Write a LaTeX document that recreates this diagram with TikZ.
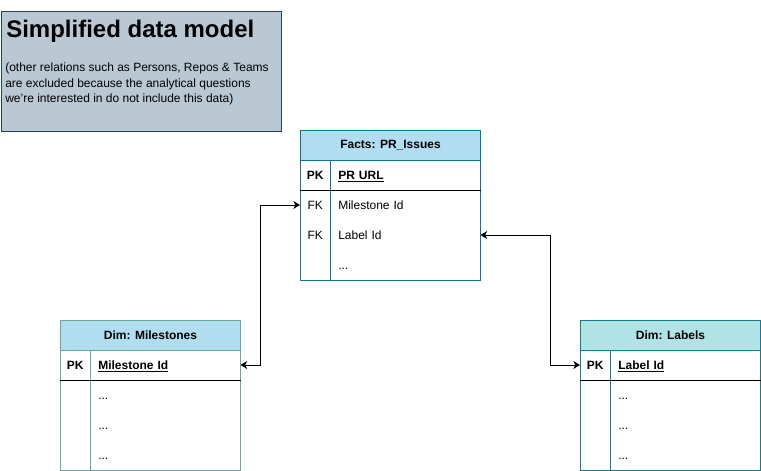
\documentclass[tikz,border=0pt]{standalone}
\usepackage{fontspec}
\setmainfont{Liberation Sans}
\usepackage{xcolor}
\usetikzlibrary{arrows.meta,calc}
\definecolor{titlefill}{HTML}{BAC8D3}
\definecolor{titleline}{HTML}{23445D}
\definecolor{factfill}{HTML}{B1DDF0}
\definecolor{factline}{HTML}{10739E}
\definecolor{msline}{HTML}{67AB9F}
\definecolor{lblfill}{HTML}{B0E3E6}
\definecolor{lblline}{HTML}{0E8088}
\newcommand{\diofont}{\fontsize{9}{10.8}\selectfont}
\tikzset{
  tblhead/.style={draw=#1, line width=0.75pt, anchor=north west, minimum width=135pt, minimum height=22.5pt, inner sep=0, font=\diofont\bfseries},
  tblbody/.style={draw=#1, line width=0.75pt, anchor=north west, minimum width=135pt, minimum height=90pt, inner sep=0},
  keycell/.style={anchor=west, minimum width=22.5pt, inner sep=0, text height=6.5pt, text depth=0pt, font=\diofont},
  fieldcell/.style={anchor=west, text width=100.5pt, inner xsep=6pt, inner ysep=0, text height=6.5pt, text depth=0pt, align=left, font=\diofont},
  rel/.style={line width=0.75pt, {Stealth[length=5pt,width=6pt,inset=1.5pt]}-{Stealth[length=5pt,width=6pt,inset=1.5pt]}}
}
\begin{document}
\begin{tikzpicture}[x=0.75pt,y=-0.75pt]
\useasboundingbox (0,0) rectangle (761,471);

% title box
\node[draw=titleline, fill=titlefill, line width=0.75pt, anchor=north west, minimum width=210pt, minimum height=90pt, inner sep=0] (titlebox) at (0.5,10.5) {};
\node[anchor=base west, inner sep=0, font=\fontsize{18}{20}\selectfont\bfseries] (title) at (6,37) {Simplified data model};
\node[anchor=north west, inner sep=0, align=left, font=\fontsize{9}{11.3}\selectfont] (note) at (5,63)
  {(other relations such as Persons, Repos \& Teams\\are excluded because the analytical questions\\we're interested in do not include this data)};

% facts
\node[tblhead=factline, fill=factfill] (facts) at (300,130) {Facts: PR\_Issues};
\node[tblbody=factline] (factsbody) at (300,160) {};
\draw[factline, line width=0.75pt] ([xshift=22.5pt]factsbody.north west) -- ([xshift=22.5pt]factsbody.south west);
\draw[line width=0.75pt] ([yshift=-22.5pt]factsbody.north west) -- ([yshift=-22.5pt]factsbody.north east);
\node[keycell, font=\diofont\bfseries] (factspk) at (300,175) {PK};
\node[fieldcell] (factsurl) at (330,175) {\underline{\textbf{PR URL}}};
\node[keycell] (factsfkms) at (300,205) {FK};
\node[fieldcell] (factsms) at (330,205) {Milestone Id};
\node[keycell] (factsfklbl) at (300,235) {FK};
\node[fieldcell] (factslbl) at (330,235) {Label Id};
\node[fieldcell] (factsmore) at (330,265) {...};

% milestones
\node[tblhead=msline, fill=factfill] (ms) at (60,320) {Dim: Milestones};
\node[tblbody=msline] (msbody) at (60,350) {};
\draw[msline, line width=0.75pt] ([xshift=22.5pt]msbody.north west) -- ([xshift=22.5pt]msbody.south west);
\draw[line width=0.75pt] ([yshift=-22.5pt]msbody.north west) -- ([yshift=-22.5pt]msbody.north east);
\node[keycell, font=\diofont\bfseries] (mspk) at (60,365) {PK};
\node[fieldcell] (msid) at (90,365) {\underline{\textbf{Milestone Id}}};
\node[fieldcell] (msmorea) at (90,395) {...};
\node[fieldcell] (msmoreb) at (90,425) {...};
\node[fieldcell] (msmorec) at (90,455) {...};

% labels
\node[tblhead=lblline, fill=lblfill] (lbl) at (580,320) {Dim: Labels};
\node[tblbody=lblline] (lblbody) at (580,350) {};
\draw[lblline, line width=0.75pt] ([xshift=22.5pt]lblbody.north west) -- ([xshift=22.5pt]lblbody.south west);
\draw[line width=0.75pt] ([yshift=-22.5pt]lblbody.north west) -- ([yshift=-22.5pt]lblbody.north east);
\node[keycell, font=\diofont\bfseries] (lblpk) at (580,365) {PK};
\node[fieldcell] (lblid) at (610,365) {\underline{\textbf{Label Id}}};
\node[fieldcell] (lblmorea) at (610,395) {...};
\node[fieldcell] (lblmoreb) at (610,425) {...};
\node[fieldcell] (lblmorec) at (610,455) {...};

% relations
\draw[rel] (msid.east) -- ++(20,0) |- (factsfkms.west);
\draw[rel] (factslbl.east) -- ++(70,0) |- (lblpk.west);
\end{tikzpicture}
\end{document}
